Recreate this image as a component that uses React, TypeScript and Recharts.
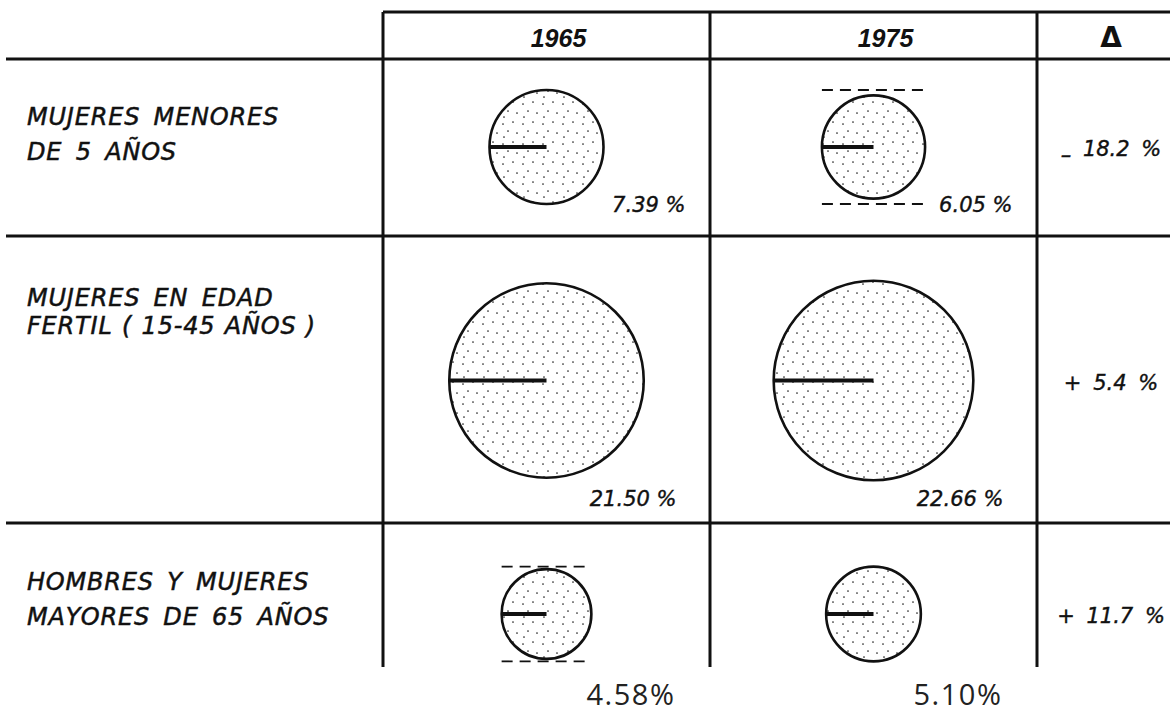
import { ReferenceLine, Scatter, ScatterChart, XAxis, YAxis, ZAxis } from 'recharts'

const years = ['1965', '1975']
const groupLabels = [
  ['MUJERES MENORES', 'DE 5 AÑOS'],
  ['MUJERES EN EDAD', 'FERTIL ( 15-45 AÑOS )'],
  ['HOMBRES Y MUJERES', 'MAYORES DE 65 AÑOS'],
]
const share1965 = [7.39, 21.5, 4.58]
const share1975 = [6.05, 22.66, 5.1]
const changeLabels = ['- 18.2 %', '+ 5.4 %', '+ 11.7 %']
// circle that carries the other year's size as dashed guides
const guideYear = ['1975', '', '1965']

// layout, in px
const W = 1170
const H = 715
const COL_PX = 327
const COL1_PX = 546.5
const ROW_PX = 233.5
const ROW0_PX = 147
const ux = (px: number) => 1 + (px - COL1_PX) / COL_PX
const uy = (py: number) => (py - ROW0_PX) / ROW_PX

const R_PER_SQRT = 20.97 // radius px per sqrt(%)
const Z_MAX = 25
const LABEL_X = ux(27)
const DELTA_X = ux(1111)
const HEADER_Y = uy(37)
const labelTop = [-22, -75, -24]
const labelGap = [35, 28, 35]
const valueDrop = [65, 125, 91]
const valueShift = [139, 130, 40]

const INK = '#111'
const HAND = '"DejaVu Sans", sans-serif'

const cells = groupLabels.flatMap((_, row) =>
  years.map((year, i) => ({
    col: i + 1,
    row,
    year,
    share: i === 0 ? share1965[row] : share1975[row],
    other: i === 0 ? share1975[row] : share1965[row],
    guide: guideYear[row] === year,
  })),
)
const groups = groupLabels.map((lines, row) => ({ col: LABEL_X, row, lines }))
const headers = [
  ...years.map((year, i) => ({ col: i + 1, row: HEADER_Y, text: year })),
  { col: DELTA_X, row: HEADER_Y, text: 'Δ' },
]
const changes = changeLabels.map((text, row) => ({ col: DELTA_X, row, text }))

function Disc(props: any) {
  const { cx, cy, payload } = props
  const r = props.width ? props.width / 2 : Math.sqrt(props.size / Math.PI)
  const ro = r * Math.sqrt(payload.other / payload.share)
  const row = payload.row
  const last = row === groupLabels.length - 1
  return (
    <g>
      <circle cx={cx} cy={cy} r={r} fill="url(#stipple)" stroke={INK} strokeWidth={2.6} />
      <line x1={cx - r} y1={cy} x2={cx} y2={cy} stroke={INK} strokeWidth={4} />
      {payload.guide && (
        <g stroke={INK} strokeWidth={1.8} strokeDasharray="11 7">
          <line x1={cx - r} x2={cx + r} y1={cy - ro} y2={cy - ro} />
          <line x1={cx - r} x2={cx + r} y1={cy + ro} y2={cy + ro} />
        </g>
      )}
      {last ? (
        <text
          x={cx + valueShift[row]}
          y={cy + valueDrop[row]}
          fontFamily='"Open Sans", sans-serif'
          fontSize={29}
          letterSpacing={1.5}
          fill="#222"
        >
          {payload.share.toFixed(2)}%
        </text>
      ) : (
        <text
          x={cx + valueShift[row]}
          y={cy + valueDrop[row]}
          textAnchor="end"
          fontFamily={HAND}
          fontStyle="italic"
          fontSize={21}
          stroke={INK}
          strokeWidth={0.4}
          fill={INK}
        >
          {payload.share.toFixed(2)} %
        </text>
      )}
    </g>
  )
}

function GroupLabel(props: any) {
  const { cx, cy, payload } = props
  const row = payload.row
  return (
    <text
      fontFamily={HAND}
      fontStyle="italic"
      fontSize={24}
      letterSpacing={0.8}
      wordSpacing={5}
      stroke={INK}
      strokeWidth={0.5}
      fill={INK}
    >
      {payload.lines.map((line: string, i: number) => (
        <tspan key={i} x={cx} y={cy + labelTop[row] + i * labelGap[row]} wordSpacing={line.includes('(') ? 1 : 5}>
          {line}
        </tspan>
      ))}
    </text>
  )
}

function Header(props: any) {
  const { cx, cy, payload } = props
  const delta = payload.text === 'Δ'
  return (
    <text
      x={delta ? cx : cx + 12}
      y={cy + 10}
      textAnchor="middle"
      fontFamily={delta ? HAND : '"Liberation Sans", sans-serif'}
      fontWeight="bold"
      fontStyle={delta ? 'normal' : 'italic'}
      fontSize={delta ? 28 : 25}
      fill={INK}
    >
      {payload.text}
    </text>
  )
}

function Change(props: any) {
  const { cx, cy, payload } = props
  const [sign, ...rest] = payload.text.split(' ')
  return (
    <text
      x={cx}
      y={cy + 9}
      textAnchor="middle"
      fontFamily={HAND}
      fontStyle="italic"
      fontSize={21}
      wordSpacing={5}
      stroke={INK}
      strokeWidth={0.4}
      fill={INK}
    >
      <tspan dy={sign === '-' ? 6 : 0}>{sign === '-' ? '–' : sign}</tspan>
      <tspan dy={sign === '-' ? -6 : 0}> {rest.join(' ')}</tspan>
    </text>
  )
}

const xDomain = [ux(0), ux(W)]
const yDomain = [uy(0), uy(H)]
const topY = uy(12)
const bottomY = uy(667)
const hRules = [uy(59), uy(236), uy(523)]
const vRules = [0.5, 1.5, 2.5]

export default function App() {
  return (
    <div>
      <style>{'body{margin:0;background:#fff}'}</style>
      <ScatterChart width={W} height={H} margin={{ top: 0, right: 0, bottom: 0, left: 0 }}>
        <defs>
          <pattern id="stipple" patternUnits="userSpaceOnUse" width="20" height="20">
            <rect width="20" height="20" fill="#fff" />
            <circle cx="3" cy="4" r="0.85" fill="#222" />
            <circle cx="13" cy="2" r="0.85" fill="#222" />
            <circle cx="8" cy="11" r="0.85" fill="#222" />
            <circle cx="17" cy="13" r="0.85" fill="#222" />
            <circle cx="4" cy="17" r="0.85" fill="#222" />
          </pattern>
        </defs>
        <XAxis type="number" dataKey="col" domain={xDomain} allowDataOverflow hide />
        <YAxis type="number" dataKey="row" domain={yDomain} allowDataOverflow reversed hide />
        <ZAxis type="number" dataKey="share" domain={[0, Z_MAX]} range={[0, Math.PI * R_PER_SQRT * R_PER_SQRT * Z_MAX]} />
        <ReferenceLine
          segment={[{ x: 0.5, y: topY }, { x: xDomain[1], y: topY }]}
          stroke={INK}
          strokeWidth={3}
          ifOverflow="visible"
        />
        {hRules.map((y) => (
          <ReferenceLine
            key={y}
            segment={[{ x: ux(6), y }, { x: xDomain[1], y }]}
            stroke={INK}
            strokeWidth={3}
            ifOverflow="visible"
          />
        ))}
        {vRules.map((x) => (
          <ReferenceLine
            key={x}
            segment={[{ x, y: topY }, { x, y: bottomY }]}
            stroke={INK}
            strokeWidth={3}
            ifOverflow="visible"
          />
        ))}
        <Scatter data={cells} shape={Disc} isAnimationActive={false} />
        <Scatter data={groups} shape={GroupLabel} isAnimationActive={false} />
        <Scatter data={headers} shape={Header} isAnimationActive={false} />
        <Scatter data={changes} shape={Change} isAnimationActive={false} />
      </ScatterChart>
    </div>
  )
}
